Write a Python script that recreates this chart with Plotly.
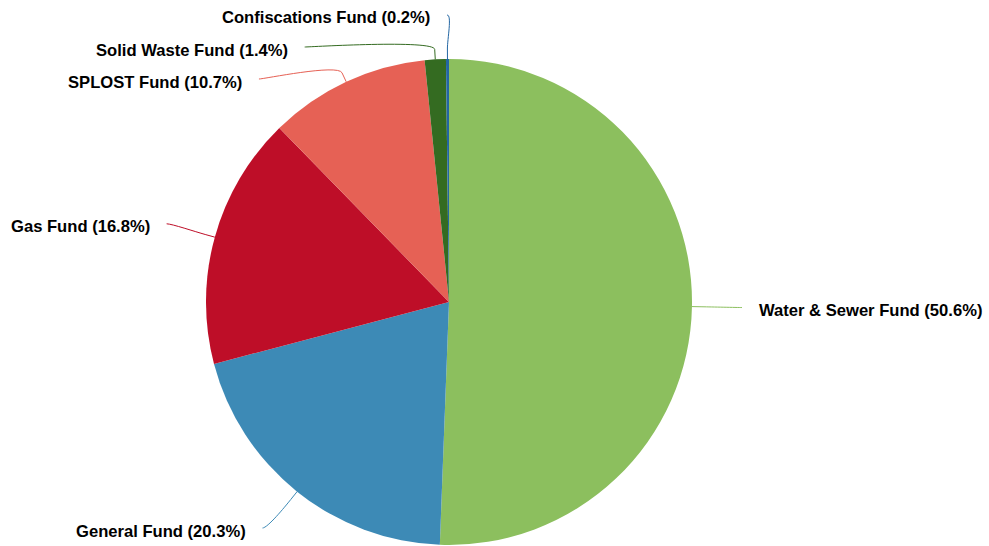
import math
import plotly.graph_objects as go

# Budget share by fund (percent)
funds = ["Water & Sewer Fund", "General Fund", "Gas Fund", "SPLOST Fund",
         "Solid Waste Fund", "Confiscations Fund"]
shares = [50.6, 20.3, 16.8, 10.7, 1.4, 0.2]
colors = ["#8cbf5e", "#3d8ab6", "#be0e28", "#e66155", "#346b21", "#2366a3"]

# Canvas and pie geometry (pixels)
W, H = 989, 546
CX, CY, RADIUS = 449, 302, 243
LABEL_R = 293        # radius of the circle the label anchors sit on
BREAK_OFFSET = 10    # where connectors bend, beyond the slice edge
TEXT_GAP = 15        # space between connector end and text
LABEL_STEP = 32      # minimum vertical spacing between labels
TOP_Y, BOTTOM_Y = 15, 528
FONT = dict(family="Liberation Sans, Arial, Helvetica, sans-serif", size=16.6,
            color="#000000", weight="bold")


def px(x, y):
    return x / W, 1 - y / H


def get_x(y, left):
    dx = math.sqrt(max(LABEL_R ** 2 - (y - CY) ** 2, 0))
    return CX - dx if left else CX + dx


total = sum(shares)
points = []
cum = 0.0
for name, val, col in zip(funds, shares, colors):
    mid = (cum + val / 2) / total * 2 * math.pi
    cum += val
    s, c = math.sin(mid), math.cos(mid)
    points.append(dict(
        name=name, val=val, color=col, left=s < 0,
        touch=(CX + RADIUS * s, CY - RADIUS * c),
        brk=(CX + (RADIUS + BREAK_OFFSET) * s, CY - (RADIUS + BREAK_OFFSET) * c),
        natural_y=CY - LABEL_R * c,
    ))

# Spread labels vertically on each side so they do not overlap
for side in (True, False):
    grp = sorted([p for p in points if p["left"] == side], key=lambda p: p["natural_y"])
    prev = None
    for p in grp:
        y = max(p["natural_y"], TOP_Y)
        if prev is not None:
            y = max(y, prev + LABEL_STEP)
        p["y"] = y
        prev = y
    nxt = None
    for p in reversed(grp):
        y = min(p["y"], BOTTOM_Y)
        if nxt is not None:
            y = min(y, nxt - LABEL_STEP)
        p["y"] = y
        nxt = y
    for p in grp:
        # a label pinned to the top edge keeps its natural x
        yy = p["natural_y"] if p["y"] <= TOP_Y else p["y"]
        p["x"] = get_x(yy, p["left"])

fig = go.Figure(go.Pie(
    labels=funds, values=shares, sort=False, direction="clockwise", rotation=0,
    marker=dict(colors=colors, line=dict(width=0)),
    textinfo="none", hoverinfo="label+percent", showlegend=False,
    domain=dict(x=[(CX - RADIUS) / W, (CX + RADIUS) / W],
                y=[(H - CY - RADIUS) / H, (H - CY + RADIUS) / H]),
))

shapes, annotations = [], []
for p in points:
    lx, ly = p["x"], p["y"]
    bx, by = p["brk"]
    tx, ty = p["touch"]
    c1x = lx + (5 if p["left"] else -5)
    pts = [(lx, ly), (c1x, ly), (2 * bx - tx, 2 * by - ty), (bx, by), (tx, ty)]
    q = [px(*pt) for pt in pts]
    path = (f"M{q[0][0]},{q[0][1]} C{q[1][0]},{q[1][1]} {q[2][0]},{q[2][1]} "
            f"{q[3][0]},{q[3][1]} L{q[4][0]},{q[4][1]}")
    shapes.append(dict(type="path", path=path, xref="paper", yref="paper",
                       line=dict(color=p["color"], width=1)))
    ax, ay = px(lx - TEXT_GAP if p["left"] else lx + TEXT_GAP, ly + 3)
    annotations.append(dict(
        x=ax, y=ay, xref="paper", yref="paper", showarrow=False,
        xanchor="right" if p["left"] else "left", yanchor="middle",
        text=f"{p['name']} ({p['val']:.1f}%)", font=FONT,
    ))

fig.update_layout(
    width=W, height=H, autosize=False,
    margin=dict(l=0, r=0, t=0, b=0),
    paper_bgcolor="#ffffff", plot_bgcolor="#ffffff",
    shapes=shapes, annotations=annotations,
)

fig.write_html("out.html")
